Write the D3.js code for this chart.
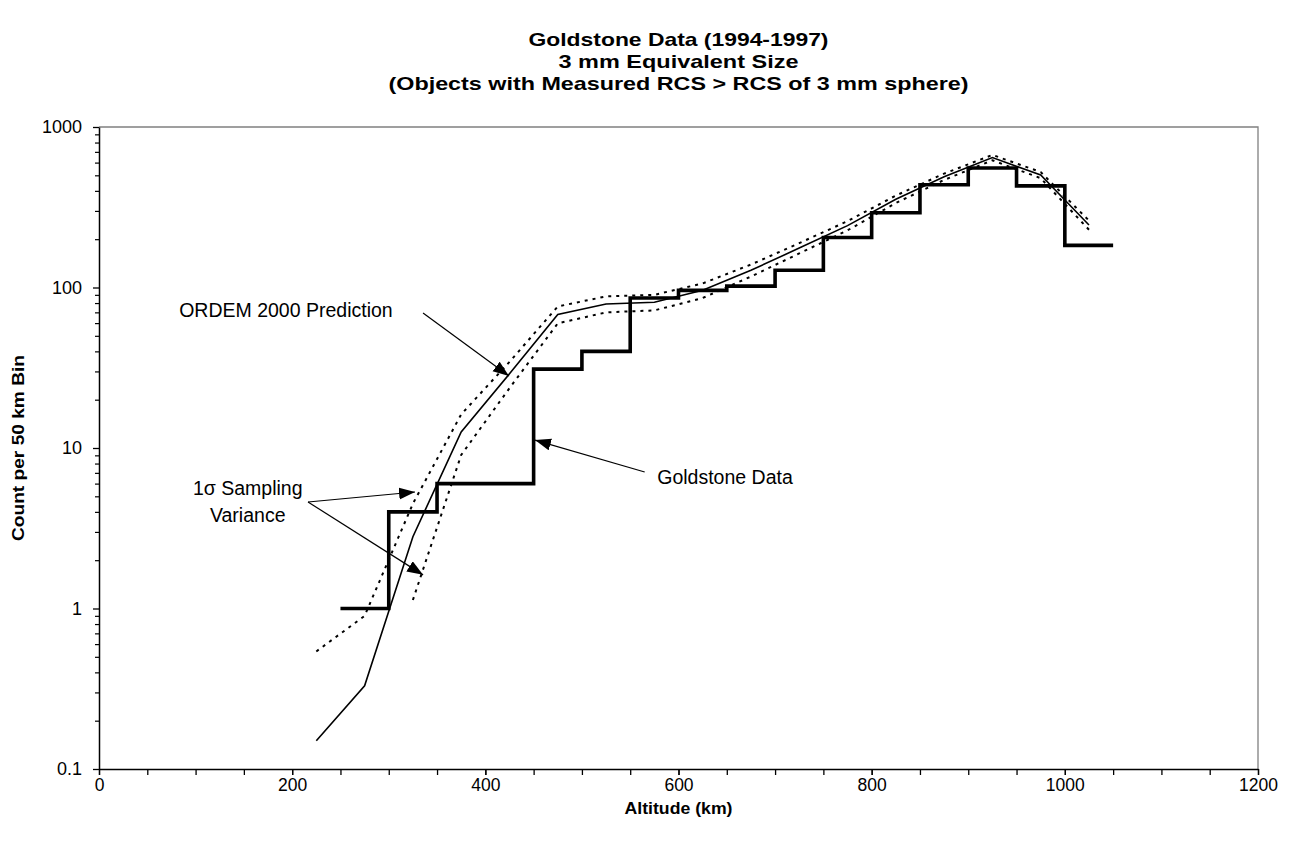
<!DOCTYPE html>
<html>
<head>
<meta charset="utf-8">
<script src="https://cdn.jsdelivr.net/npm/d3@7"></script>
<style>
  body { margin: 0; background: #fff; }
  svg { display: block; }
  text { font-family: Arial, "Liberation Sans", sans-serif; fill: #000; }
</style>
</head>
<body>
<svg id="chart" width="1296" height="844"></svg>
<script>
// ---------------- data ----------------
const titleLines = [
  "Goldstone Data (1994-1997)",
  "3 mm Equivalent Size",
  "(Objects with Measured RCS > RCS of 3 mm sphere)"
];
const xAxisTitle = "Altitude (km)";
const yAxisTitle = "Count per 50 km Bin";

const xTickValues = [0, 200, 400, 600, 800, 1000, 1200];
const xMinorTickValues = [0, 50, 100, 150, 200, 250, 300, 350, 400, 450, 500, 550, 600, 650, 700, 750, 800, 850, 900, 950, 1000, 1050, 1100, 1150, 1200];
const yTickValues = [0.1, 1, 10, 100, 1000];
const yTickLabels = ["0.1", "1", "10", "100", "1000"];

// Goldstone measured counts per 50 km bin
const goldstoneBinStart = [250, 300, 350, 400, 450, 500, 550, 600, 650, 700, 750, 800, 850, 900, 950, 1000];
const goldstoneBinEnd   = [300, 350, 400, 450, 500, 550, 600, 650, 700, 750, 800, 850, 900, 950, 1000, 1050];
const goldstoneCounts   = [1, 4, 6, 6, 31, 40, 86, 96, 102, 128, 205, 292, 437, 555, 430, 183];

// ORDEM 2000 prediction and 1-sigma sampling variance bounds
const ordemAltitude = [225, 275, 325, 375, 425, 475, 525, 575, 625, 675, 725, 775, 825, 875, 925, 975, 1025];
const ordemCount    = [0.15, 0.33, 2.8, 12.6, 29, 68, 79, 81, 96, 128, 176, 243, 355, 490, 645, 502, 245];
const ordemUpper    = [0.54, 0.90, 4.5, 16.2, 34.4, 76.2, 88, 90, 106, 139, 189, 259, 374, 512, 670, 524, 261];
const ordemLower    = [null, null, 1.13, 9.05, 23.6, 59.8, 70, 72, 86, 117, 163, 227, 336, 468, 620, 480, 229];

// annotation anchors in data space (altitude km, count)
const annotationTexts = ["ORDEM 2000 Prediction", "Goldstone Data", "1\u03c3 Sampling", "Variance"];
const annotationAlt   = [83, 578, 154, 154];
const annotationCount = [65.5, 5.97, 5.10, 3.46];
const annotationAnchor = ["start", "start", "middle", "middle"];
const arrowFromAlt   = [335.5, 565, 216.4, 216.4];
const arrowFromCount = [69.3, 7.09, 4.61, 4.61];
const arrowToAlt     = [424.5, 451.4, 327.2, 335.5];
const arrowToCount   = [28.1, 11.2, 5.32, 1.62];

// ---------------- chart ----------------
const plot = { left: 99, right: 1258, top: 127, bottom: 769 };

const svg = d3.select("#chart");

const x = d3.scaleLinear().domain([0, 1200]).range([plot.left, plot.right]);
const y = d3.scaleLog().domain([0.1, 1000]).range([plot.bottom, plot.top]);

// plot frame (grey top & right)
svg.append("path")
  .attr("d", `M${plot.left},${plot.top}H${plot.right}V${plot.bottom}`)
  .attr("fill", "none").attr("stroke", "#808080").attr("stroke-width", 1.3);

// x axis
const xMinor = svg.append("g").attr("transform", `translate(0,${plot.bottom})`)
  .call(d3.axisBottom(x).tickValues(xMinorTickValues).tickSize(6).tickSizeOuter(0).tickFormat(""));
xMinor.select(".domain").remove();
xMinor.selectAll("line").attr("stroke", "#000").attr("stroke-width", 1.3);

const xAxis = svg.append("g").attr("transform", `translate(0,${plot.bottom})`)
  .call(d3.axisBottom(x).tickValues(xTickValues).tickSize(6).tickSizeOuter(0).tickFormat(d3.format("d")));
xAxis.select(".domain").attr("stroke", "#000").attr("stroke-width", 1.5);
xAxis.selectAll("line").attr("stroke", "#000").attr("stroke-width", 1.3);
xAxis.selectAll("text").attr("font-size", 17.5).attr("y", 10).attr("fill", "#000");

// y axis
const yMinorVals = [];
for (let e = -1; e < 3; e++) for (let m = 2; m <= 9; m++) yMinorVals.push(m * Math.pow(10, e));
const yMinor = svg.append("g").attr("transform", `translate(${plot.left},0)`)
  .call(d3.axisLeft(y).tickValues(yMinorVals).tickSize(4).tickSizeOuter(0).tickFormat(""));
yMinor.select(".domain").remove();
yMinor.selectAll("line").attr("stroke", "#000").attr("stroke-width", 1.2);

const yAxis = svg.append("g").attr("transform", `translate(${plot.left},0)`)
  .call(d3.axisLeft(y).tickValues(yTickValues).tickSize(6).tickSizeOuter(0)
    .tickFormat((d, i) => yTickLabels[i]));
yAxis.select(".domain").attr("stroke", "#000").attr("stroke-width", 1.5);
yAxis.selectAll("line").attr("stroke", "#000").attr("stroke-width", 1.3);
yAxis.selectAll("text").attr("font-size", 18).attr("x", -17).attr("fill", "#000");

// titles (bold text in the original is set slightly wide)
const titleWidths = [300, 240, 580];
svg.append("g").selectAll("text").data(titleLines).join("text")
  .attr("x", (plot.left + plot.right) / 2)
  .attr("y", (d, i) => 46 + i * 22)
  .attr("text-anchor", "middle")
  .attr("font-size", 18.5).attr("font-weight", "bold")
  .attr("textLength", (d, i) => titleWidths[i])
  .attr("lengthAdjust", "spacingAndGlyphs")
  .text(d => d);

svg.append("text")
  .attr("x", (plot.left + plot.right) / 2).attr("y", 814)
  .attr("text-anchor", "middle").attr("font-size", 16.5).attr("font-weight", "bold")
  .attr("textLength", 108).attr("lengthAdjust", "spacingAndGlyphs")
  .text(xAxisTitle);

svg.append("text")
  .attr("transform", `translate(24,${(plot.top + plot.bottom) / 2}) rotate(-90)`)
  .attr("text-anchor", "middle").attr("font-size", 16.5).attr("font-weight", "bold")
  .attr("textLength", 186).attr("lengthAdjust", "spacingAndGlyphs")
  .text(yAxisTitle);

// series
const g = svg.append("g");

const seriesLine = d3.line()
  .defined(d => d[1] != null)
  .x(d => x(d[0])).y(d => y(d[1]));

g.append("path")
  .datum(ordemAltitude.map((a, i) => [a, ordemUpper[i]]))
  .attr("d", seriesLine)
  .attr("fill", "none").attr("stroke", "#000").attr("stroke-width", 2)
  .attr("stroke-dasharray", "3,5");

g.append("path")
  .datum(ordemAltitude.map((a, i) => [a, ordemLower[i]]))
  .attr("d", seriesLine)
  .attr("fill", "none").attr("stroke", "#000").attr("stroke-width", 2)
  .attr("stroke-dasharray", "3,5");

g.append("path")
  .datum(ordemAltitude.map((a, i) => [a, ordemCount[i]]))
  .attr("d", seriesLine)
  .attr("fill", "none").attr("stroke", "#000").attr("stroke-width", 1.6);

const stepPts = goldstoneBinStart.map((a, i) => [a, goldstoneCounts[i]]);
stepPts.push([goldstoneBinEnd[goldstoneBinEnd.length - 1], goldstoneCounts[goldstoneCounts.length - 1]]);
g.append("path")
  .datum(stepPts)
  .attr("d", d3.line().curve(d3.curveStepAfter).x(d => x(d[0])).y(d => y(d[1])))
  .attr("fill", "none").attr("stroke", "#000").attr("stroke-width", 3.6)
  .attr("stroke-linejoin", "miter");

// annotations
const defs = svg.append("defs");
defs.append("marker")
  .attr("id", "arrow").attr("markerUnits", "userSpaceOnUse")
  .attr("markerWidth", 17).attr("markerHeight", 13)
  .attr("refX", 16).attr("refY", 6).attr("orient", "auto")
  .append("path").attr("d", "M0,0L16,6L0,12Z").attr("fill", "#000");

const ann = svg.append("g");
arrowFromAlt.forEach((a, i) => {
  ann.append("line")
    .attr("x1", x(a)).attr("y1", y(arrowFromCount[i]))
    .attr("x2", x(arrowToAlt[i])).attr("y2", y(arrowToCount[i]))
    .attr("stroke", "#000").attr("stroke-width", 1.2)
    .attr("marker-end", "url(#arrow)");
});
annotationTexts.forEach((t, i) => {
  ann.append("text")
    .attr("x", x(annotationAlt[i])).attr("y", y(annotationCount[i]))
    .attr("text-anchor", annotationAnchor[i])
    .attr("font-size", 19.5)
    .text(t);
});
</script>
</body>
</html>
